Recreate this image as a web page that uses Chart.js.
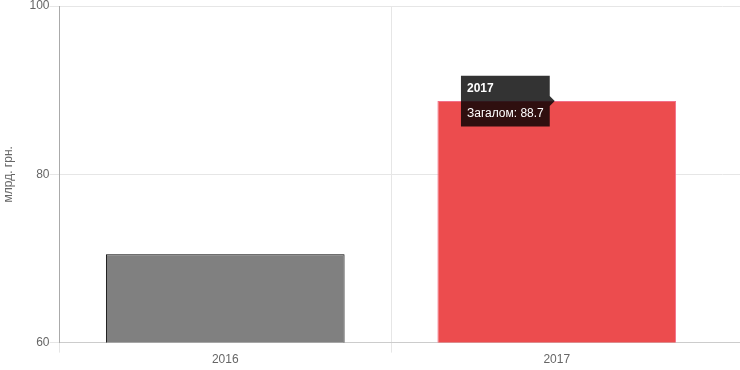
<!DOCTYPE html>
<html>
<head>
<meta charset="utf-8">
<script src="https://cdn.jsdelivr.net/npm/chart.js@4/dist/chart.umd.min.js"></script>
<style>
html,body{margin:0;padding:0;background:#fff;}
#wrap{width:740px;height:370px;position:relative;}
</style>
</head>
<body>
<div id="wrap"><canvas id="c" width="740" height="370"></canvas></div>
<script>
const categories = ["2016", "2017"];
const values = [70.5, 88.7];
const seriesLabel = "Загалом";
const yAxisTitle = "млрд. грн.";
const yTicks = [60, 80, 100];

Chart.defaults.font.family = "'Liberation Sans', Arial, sans-serif";
Chart.defaults.font.size = 12;
Chart.defaults.color = "#666";

const GRID = "#e6e6e6";
const align = (p) => Math.round(p - 0.5) + 0.5;

// extends horizontal grid lines and the x axis line to the right edge of the canvas
const extendGrid = {
  id: "extendGrid",
  beforeDatasetsDraw(chart) {
    const { ctx, chartArea, scales } = chart;
    const y = scales.y;
    ctx.save();
    ctx.lineWidth = 1;
    ctx.strokeStyle = GRID;
    y.ticks.forEach((t, i) => {
      if (i === 0) return;
      const py = align(y.getPixelForValue(t.value));
      ctx.beginPath();
      ctx.moveTo(chartArea.right, py);
      ctx.lineTo(chart.width, py);
      ctx.stroke();
    });
    ctx.strokeStyle = "#cccccc";
    const by = align(scales.x.top);
    ctx.beginPath();
    ctx.moveTo(chartArea.right, by);
    ctx.lineTo(chart.width, by);
    ctx.stroke();
    ctx.restore();
  }
};

const chart = new Chart(document.getElementById("c"), {
  type: "bar",
  data: {
    labels: categories,
    datasets: [{
      label: seriesLabel,
      data: values,
      backgroundColor: ["#808080", "#ec4c4e"],
      borderColor: ["#000000", "#f2708a"],
      borderWidth: 1
    }]
  },
  plugins: [extendGrid],
  options: {
    responsive: false,
    animation: false,
    layout: { padding: { top: 0, right: 17.5, left: 0, bottom: 3 } },
    plugins: {
      legend: { display: false },
      tooltip: {
        enabled: true,
        backgroundColor: "rgba(0,0,0,0.8)",
        cornerRadius: 0,
        caretSize: 5,
        padding: 6,
        xAlign: "right",
        yAlign: "center",
        displayColors: false,
        titleFont: { size: 12, weight: "bold" },
        bodyFont: { size: 12 },
        titleMarginBottom: 10,
        callbacks: {
          label: (ctx) => ctx.dataset.label + ": " + ctx.parsed.y
        }
      }
    },
    scales: {
      x: {
        grid: {
          color: (ctx) => ctx.type === "tick" ? GRID : "rgba(0,0,0,0)",
          offset: true,
          tickLength: 10
        },
        border: { color: "#cccccc" },
        ticks: { color: "#666", padding: 0 }
      },
      y: {
        min: yTicks[0],
        max: yTicks[yTicks.length - 1],
        afterBuildTicks: (axis) => { axis.ticks = yTicks.map(v => ({ value: v })); },
        afterFit: (axis) => { axis.width = 59.5; },
        grid: { color: GRID, tickLength: 10 },
        border: { color: "#aaaaaa" },
        ticks: { color: "#666", padding: 0, font: { size: 12, lineHeight: 1 } },
        title: { display: true, text: yAxisTitle, color: "#666", font: { size: 12 }, padding: { top: 1, bottom: 0 } }
      }
    }
  }
});

const meta = chart.getDatasetMeta(0);
const el = meta.data[1];
chart.tooltip.setActiveElements([{ datasetIndex: 0, index: 1 }], { x: el.x, y: el.y });
chart.update();
</script>
</body>
</html>
